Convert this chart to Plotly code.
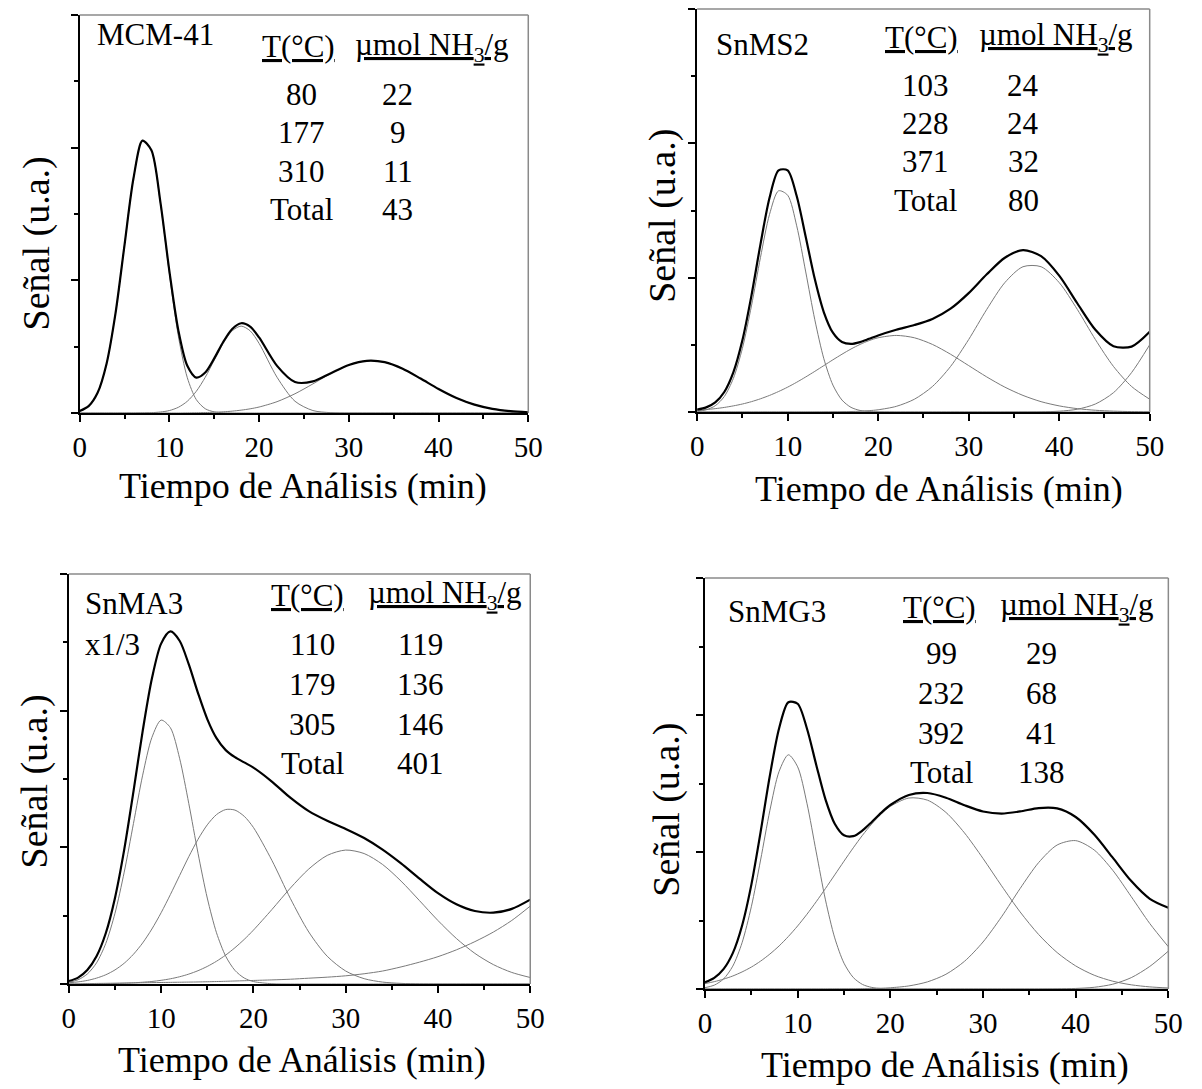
import plotly.graph_objects as go

# ---------------- data ----------------
# time grid (min) on which every curve was read
T_MIN = [0, 1, 2, 3, 4, 5, 6, 7, 8, 9, 10, 11, 12, 13, 14, 15, 16, 17, 18, 19, 20,
         22, 24, 26, 28, 30, 32, 34, 36, 38, 40, 42, 44, 46, 48, 50]
X_TICKS = [0, 10, 20, 30, 40, 50]

# MCM-41
MCM_TOTAL = [0.029, 0.103, 0.304, 0.743, 1.505, 2.532, 3.538, 4.106, 3.961, 3.180, 2.140,
             1.246, 0.711, 0.533, 0.610, 0.823, 1.071, 1.267, 1.353, 1.302, 1.139,
             0.710, 0.467, 0.476, 0.601, 0.724, 0.787, 0.766, 0.667, 0.519, 0.362,
             0.226, 0.126, 0.063, 0.028, 0.011]
MCM_P1 = [0.029, 0.103, 0.304, 0.743, 1.505, 2.532, 3.538, 4.106, 3.956, 3.165, 2.103,
          1.160, 0.532, 0.202, 0.064, 0.017, 0.004, 0, 0, 0, 0,
          0, 0, 0, 0, 0, 0, 0, 0, 0, 0, 0, 0, 0, 0, 0]
MCM_P2 = [0, 0, 0, 0, 0, 0, 0, 0.002, 0.005, 0.015, 0.037,
          0.086, 0.177, 0.327, 0.539, 0.795, 1.049, 1.239, 1.310, 1.239, 1.049,
          0.539, 0.177, 0.037, 0.005, 0, 0, 0, 0, 0, 0, 0, 0, 0, 0, 0]
MCM_P3 = [0, 0, 0, 0, 0, 0, 0, 0, 0, 0, 0,
          0, 0.002, 0.004, 0.007, 0.011, 0.018, 0.028, 0.043, 0.063, 0.090,
          0.171, 0.290, 0.439, 0.596, 0.724, 0.787, 0.766, 0.667, 0.519, 0.362,
          0.226, 0.126, 0.063, 0.028, 0.011]

# SnMS2
MS2_TOTAL = [0.036, 0.069, 0.143, 0.298, 0.590, 1.067, 1.733, 2.500, 3.190, 3.598, 3.598,
             3.215, 2.607, 1.979, 1.485, 1.180, 1.042, 1.014, 1.041, 1.090, 1.140,
             1.224, 1.295, 1.386, 1.538, 1.770, 2.050, 2.297, 2.411, 2.320, 2.030,
             1.619, 1.224, 0.979, 0.973, 1.193]
MS2_P1 = [0.010, 0.033, 0.093, 0.230, 0.499, 0.948, 1.579, 2.303, 2.943, 3.293, 3.228,
          2.772, 2.085, 1.374, 0.793, 0.401, 0.178, 0.069, 0.023, 0.007, 0.002,
          0, 0, 0, 0, 0, 0, 0, 0, 0, 0, 0, 0, 0, 0, 0]
MS2_P2 = [0.026, 0.036, 0.050, 0.068, 0.091, 0.119, 0.154, 0.197, 0.247, 0.305, 0.370,
          0.443, 0.522, 0.605, 0.691, 0.777, 0.860, 0.938, 1.006, 1.063, 1.105,
          1.140, 1.105, 1.006, 0.860, 0.691, 0.522, 0.370, 0.247, 0.154, 0.091,
          0.050, 0.026, 0.013, 0.006, 0.002]
MS2_P3 = [0, 0, 0, 0, 0, 0, 0, 0, 0, 0, 0,
          0, 0, 0, 0.001, 0.002, 0.004, 0.007, 0.012, 0.020, 0.033,
          0.084, 0.190, 0.380, 0.678, 1.079, 1.528, 1.927, 2.163, 2.163, 1.927,
          1.528, 1.079, 0.678, 0.380, 0.190]
MS2_P4 = [0, 0, 0, 0, 0, 0, 0, 0, 0, 0, 0,
          0, 0, 0, 0, 0, 0, 0, 0, 0, 0,
          0, 0, 0, 0, 0, 0, 0, 0.001, 0.003, 0.012,
          0.041, 0.119, 0.288, 0.587, 1.001]

# SnMA3 (x1/3)
MA3_TOTAL = [0.043, 0.094, 0.205, 0.406, 0.743, 1.260, 1.966, 2.816, 3.701, 4.470, 4.981,
             5.159, 5.023, 4.677, 4.256, 3.877, 3.598, 3.423, 3.319, 3.243, 3.167,
             2.963, 2.726, 2.529, 2.388, 2.270, 2.137, 1.967, 1.765, 1.542, 1.329,
             1.166, 1.068, 1.044, 1.099, 1.235]
MA3_P1 = [0.024, 0.062, 0.146, 0.309, 0.593, 1.035, 1.637, 2.348, 3.056, 3.608, 3.862,
          3.751, 3.304, 2.640, 1.913, 1.258, 0.750, 0.406, 0.199, 0.088, 0.036,
          0.004, 0, 0, 0, 0, 0, 0, 0, 0, 0, 0, 0, 0, 0, 0]
MA3_P2 = [0.018, 0.031, 0.052, 0.086, 0.135, 0.206, 0.304, 0.435, 0.601, 0.805, 1.043,
          1.308, 1.587, 1.864, 2.118, 2.329, 2.479, 2.553, 2.545, 2.455, 2.291,
          1.810, 1.253, 0.761, 0.406, 0.190, 0.078, 0.028, 0.009, 0.002, 0,
          0, 0, 0, 0, 0]
MA3_P3 = [0.001, 0.001, 0.002, 0.003, 0.005, 0.007, 0.011, 0.017, 0.026, 0.037, 0.054,
          0.076, 0.106, 0.145, 0.195, 0.257, 0.333, 0.424, 0.531, 0.652, 0.788,
          1.089, 1.403, 1.683, 1.882, 1.960, 1.909, 1.749, 1.506, 1.220, 0.929,
          0.666, 0.448, 0.284, 0.169, 0.095]
MA3_P4 = [0.000, 0.000, 0.005, 0.008, 0.010, 0.012, 0.014, 0.016, 0.018, 0.020, 0.022,
          0.024, 0.026, 0.028, 0.030, 0.033, 0.036, 0.040, 0.044, 0.048, 0.052,
          0.060, 0.070, 0.085, 0.100, 0.120, 0.150, 0.190, 0.250, 0.320, 0.400,
          0.500, 0.620, 0.760, 0.930, 1.140]

# SnMG3
MG3_TOTAL = [0.098, 0.163, 0.290, 0.524, 0.924, 1.520, 2.290, 3.115, 3.807, 4.186, 4.164,
             3.803, 3.275, 2.768, 2.413, 2.244, 2.231, 2.315, 2.439, 2.571, 2.686,
             2.833, 2.861, 2.793, 2.683, 2.592, 2.561, 2.592, 2.641, 2.636, 2.511,
             2.255, 1.917, 1.575, 1.316, 1.185]
MG3_P1 = [0.019, 0.056, 0.146, 0.334, 0.675, 1.200, 1.883, 2.605, 3.178, 3.419, 3.243,
          2.712, 2.001, 1.301, 0.746, 0.377, 0.168, 0.066, 0.023, 0.007, 0.002,
          0, 0, 0, 0, 0, 0, 0, 0, 0, 0, 0, 0, 0, 0, 0]
MG3_P2 = [0.079, 0.107, 0.144, 0.190, 0.249, 0.320, 0.407, 0.510, 0.629, 0.767, 0.921,
          1.091, 1.274, 1.467, 1.666, 1.866, 2.061, 2.245, 2.410, 2.553, 2.666,
          2.788, 2.757, 2.578, 2.279, 1.906, 1.507, 1.126, 0.796, 0.532, 0.337,
          0.201, 0.114, 0.061, 0.031, 0.015]
MG3_P3 = [0, 0, 0, 0, 0, 0, 0, 0, 0, 0, 0,
          0, 0, 0, 0.001, 0.001, 0.002, 0.004, 0.006, 0.011, 0.018,
          0.045, 0.104, 0.215, 0.404, 0.686, 1.054, 1.466, 1.845, 2.102, 2.166,
          2.029, 1.733, 1.348, 0.955, 0.617]
MG3_P4 = [0, 0, 0, 0, 0, 0, 0, 0, 0, 0, 0,
          0, 0, 0, 0, 0, 0, 0, 0, 0, 0,
          0, 0, 0, 0, 0, 0, 0, 0, 0.002, 0.008,
          0.025, 0.070, 0.166, 0.330, 0.553]

# inset tables
SAMPLES = ["MCM-41", "SnMS2", "SnMA3", "SnMG3"]
TEMPS = [["80", "177", "310", "Total"],
         ["103", "228", "371", "Total"],
         ["110", "179", "305", "Total"],
         ["99", "232", "392", "Total"]]
ACID = [["22", "9", "11", "43"],
        ["24", "24", "32", "80"],
        ["119", "136", "146", "401"],
        ["29", "68", "41", "138"]]

X_TITLE = "Tiempo de Análisis (min)"
Y_TITLE = "Señal (u.a.)"

# ---------------- figure ----------------
W, H = 1202, 1089
FONT = "Liberation Serif"
TXT = 31      # inset text size
TICK = 29     # tick label size
XT = 36       # x title size
YT = 38       # y title size


def px(x):
    return x / W


def py(y):
    return 1 - y / H


panels = [
    dict(total=MCM_TOTAL, comps=[MCM_P1, MCM_P2, MCM_P3],
         box=(74, 531, 15, 413),
         label=(90, 35), extra=None,
         head=(297, 433, 47), rows_y=[95, 133, 172, 210], cols=(300, 398),
         xt=(302, 486), yt=(30, 243)),
    dict(total=MS2_TOTAL, comps=[MS2_P1, MS2_P2, MS2_P3, MS2_P4],
         box=(703, 1164, 9, 412),
         label=(720, 45), extra=None,
         head=(932, 1069, 37), rows_y=[85, 123, 162, 201], cols=(936, 1035),
         xt=(949, 489), yt=(667, 216)),
    dict(total=MA3_TOTAL, comps=[MA3_P1, MA3_P2, MA3_P3, MA3_P4],
         box=(63, 533, 574, 984),
         label=(77, 603), extra=(77, 644, "x1/3"),
         head=(306, 446, 595), rows_y=[644, 684, 724, 763], cols=(311, 421),
         xt=(300, 1060), yt=(28, 781)),
    dict(total=MG3_TOTAL, comps=[MG3_P1, MG3_P2, MG3_P3, MG3_P4],
         box=(711, 1183, 578, 989),
         label=(732, 611), extra=None,
         head=(950, 1090, 607), rows_y=[653, 693, 733, 772], cols=(952, 1054),
         xt=(955, 1065), yt=(671, 810)),
]

fig = go.Figure()
layout = dict(
    width=W, height=H,
    margin=dict(l=0, r=0, t=0, b=0),
    paper_bgcolor="white", plot_bgcolor="white",
    showlegend=False,
    font=dict(family=FONT, color="black", size=TXT),
)
annotations = []
shapes = []


def note(x, y, text, size, anchor="center", angle=0):
    annotations.append(dict(x=px(x), y=py(y), xref="paper", yref="paper",
                            text=text, showarrow=False, xanchor=anchor,
                            yanchor="middle", textangle=angle,
                            font=dict(family=FONT, size=size, color="black")))


for i, p in enumerate(panels):
    n = "" if i == 0 else str(i + 1)
    xa, ya = "x" + n, "y" + n
    for comp in p["comps"]:
        fig.add_trace(go.Scatter(
            x=T_MIN, y=comp, mode="lines", xaxis=xa, yaxis=ya,
            line=dict(color="#7a7a7a", width=1, shape="spline", smoothing=0.8),
            hoverinfo="skip"))
    fig.add_trace(go.Scatter(
        x=T_MIN, y=p["total"], mode="lines", xaxis=xa, yaxis=ya,
        line=dict(color="black", width=2.2, shape="spline", smoothing=0.8),
        hoverinfo="skip"))

    x0, x1, y0, y1 = p["box"]
    layout["xaxis" + n] = dict(
        domain=[px(x0), px(x1)], range=[0, 50], anchor=ya,
        showline=True, linecolor="black", linewidth=1.5,
        ticks="outside", ticklen=7, tickwidth=1.5, tickcolor="black",
        tickvals=X_TICKS, ticktext=[str(v) for v in X_TICKS],
        minor=dict(ticks="outside", ticklen=4, tickwidth=1.5, tickcolor="black",
                   dtick=5, tick0=0, showgrid=False),
        tickfont=dict(family=FONT, size=TICK, color="black"),
        showgrid=False, zeroline=False, fixedrange=True)
    layout["yaxis" + n] = dict(
        domain=[py(y1), py(y0)], range=[0, 6], anchor=xa,
        showline=True, linecolor="black", linewidth=1.5,
        ticks="outside", ticklen=7, tickwidth=1.5, tickcolor="black",
        dtick=2, tick0=0,
        minor=dict(ticks="outside", ticklen=4, tickwidth=1.5, tickcolor="black",
                   dtick=1, tick0=0, showgrid=False),
        showticklabels=False, showgrid=False, zeroline=False, fixedrange=True)

    # grey top / right frame
    for (a, b, c, d) in [(0, 1, 1, 1), (1, 0, 1, 1)]:
        shapes.append(dict(type="line", xref=xa + " domain", yref=ya + " domain",
                           x0=a, y0=b, x1=c, y1=d,
                           line=dict(color="#8a8a8a", width=1.5)))

    lx, ly = p["label"]
    note(lx, ly, SAMPLES[i], TXT, anchor="left")
    if p["extra"]:
        ex, ey, et = p["extra"]
        note(ex, ey, et, TXT, anchor="left")
    hx1, hx2, hy = p["head"]
    note(hx1, hy, "<u>T(°C)</u>", TXT)
    note(hx2, hy, "<u>µmol NH<sub>3</sub>/g</u>", TXT)
    cx1, cx2 = p["cols"]
    for t, a, ry in zip(TEMPS[i], ACID[i], p["rows_y"]):
        note(cx1, ry, t, TXT)
        note(cx2, ry, a, TXT)
    tx, ty = p["xt"]
    note(tx, ty, X_TITLE, XT)
    vx, vy = p["yt"]
    note(vx, vy, Y_TITLE, YT, angle=-90)

layout["annotations"] = annotations
layout["shapes"] = shapes
fig.update_layout(**layout)

fig.write_html(
    "out.html",
    config={"displayModeBar": False},
    post_script=(
        "var h=document.documentElement,b=document.body;"
        "h.style.margin='0';h.style.padding='0';h.style.overflow='hidden';"
        "b.style.margin='0';b.style.padding='0';b.style.overflow='hidden';"
    ),
)
